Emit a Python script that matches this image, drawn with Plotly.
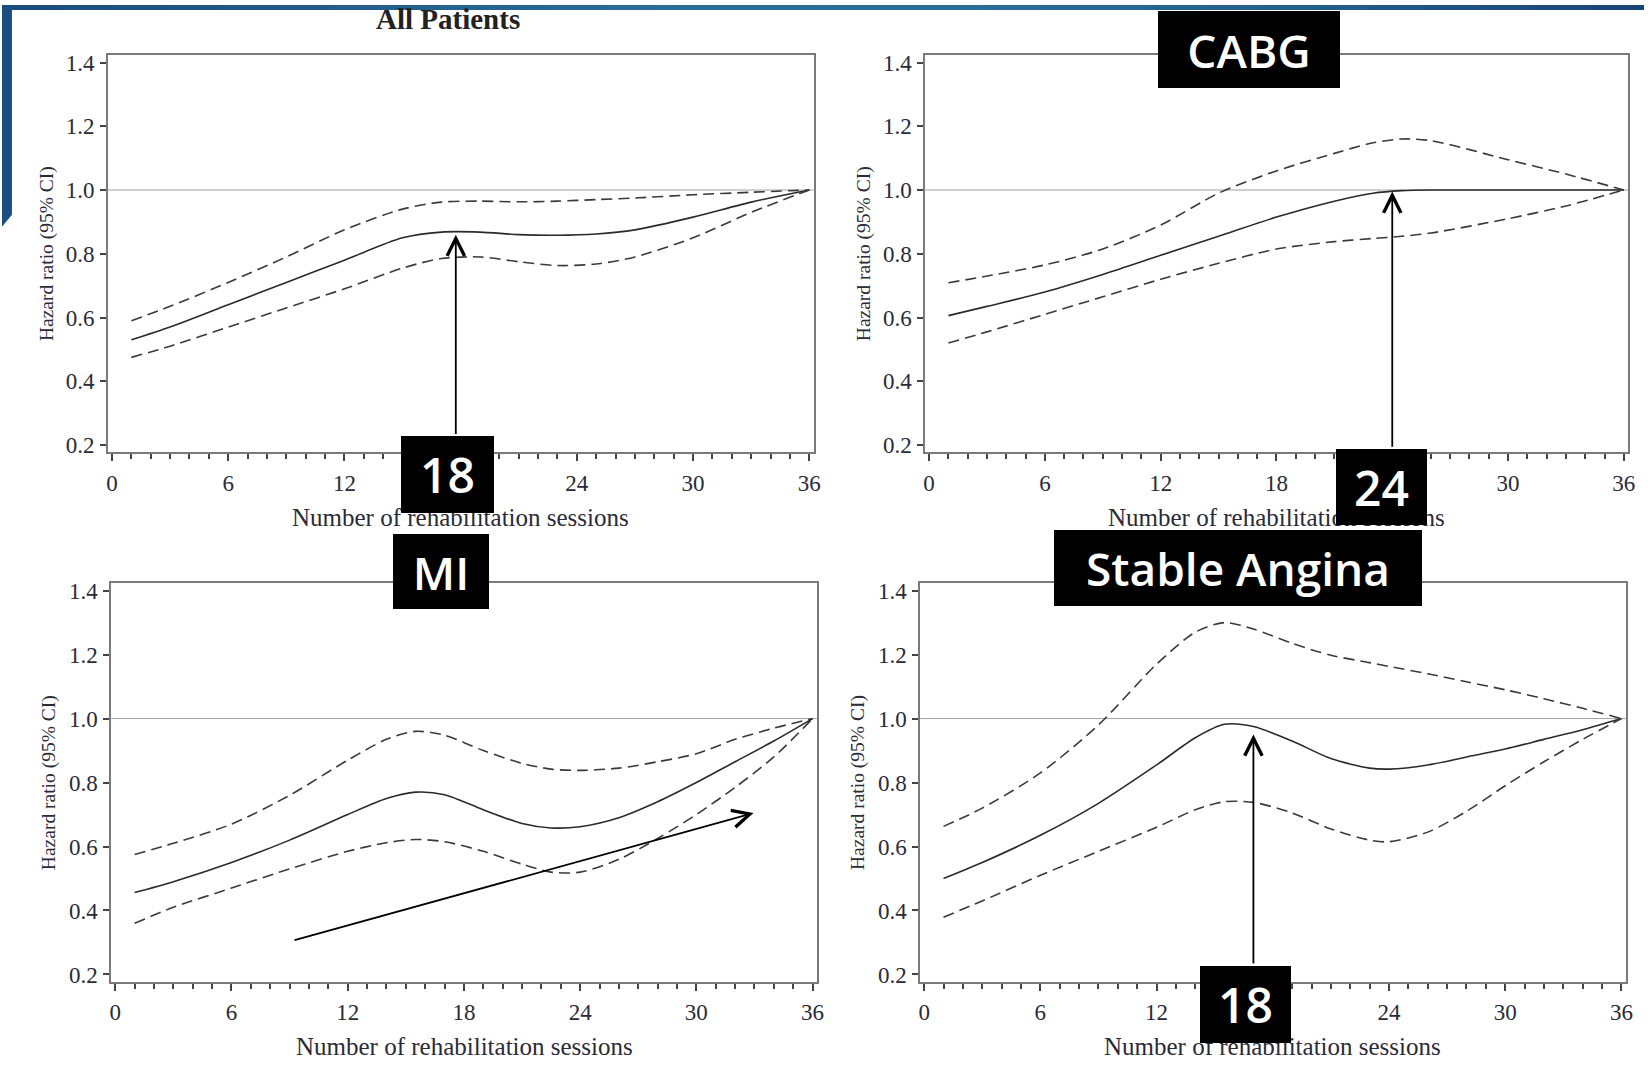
import plotly.graph_objects as go

# ---------------- data ----------------
# All Patients
x_all = [1, 3, 6, 9, 12, 15, 17, 19, 21, 23, 25, 27, 30, 33, 36]
hr_all = [0.53, 0.57, 0.64, 0.71, 0.78, 0.85, 0.868, 0.868, 0.86, 0.858, 0.862, 0.875, 0.915, 0.962, 1.0]
up_all = [0.59, 0.635, 0.71, 0.79, 0.875, 0.94, 0.962, 0.965, 0.963, 0.965, 0.97, 0.975, 0.985, 0.993, 1.0]
lo_all = [0.475, 0.51, 0.57, 0.63, 0.69, 0.755, 0.785, 0.79, 0.775, 0.763, 0.768, 0.79, 0.85, 0.93, 1.0]

# CABG
x_cabg = [1, 3, 6, 9, 12, 15, 18, 21, 23, 24.5, 26, 30, 33, 36]
hr_cabg = [0.606, 0.635, 0.68, 0.735, 0.795, 0.855, 0.915, 0.965, 0.99, 0.998, 1.0, 1.0, 1.0, 1.0]
up_cabg = [0.709, 0.73, 0.765, 0.815, 0.89, 0.99, 1.06, 1.115, 1.148, 1.16, 1.155, 1.095, 1.05, 1.0]
lo_cabg = [0.52, 0.555, 0.61, 0.665, 0.72, 0.77, 0.815, 0.838, 0.848, 0.855, 0.865, 0.91, 0.95, 1.0]

# MI
x_mi = [1, 3, 6, 9, 12, 14, 15.5, 17, 19, 21, 22.5, 24, 26, 28, 30, 32, 34, 36]
hr_mi = [0.456, 0.49, 0.55, 0.62, 0.70, 0.75, 0.77, 0.762, 0.715, 0.672, 0.658, 0.662, 0.69, 0.74, 0.80, 0.865, 0.93, 1.0]
up_mi = [0.575, 0.61, 0.67, 0.76, 0.87, 0.935, 0.96, 0.948, 0.9, 0.86, 0.842, 0.838, 0.845, 0.865, 0.89, 0.935, 0.97, 1.0]
lo_mi = [0.36, 0.41, 0.47, 0.53, 0.585, 0.612, 0.622, 0.615, 0.585, 0.545, 0.52, 0.52, 0.56, 0.625, 0.70, 0.785, 0.88, 1.0]

# Stable Angina
x_sa = [1, 3, 6, 9, 12, 14, 15.5, 17, 19, 21, 23, 24, 26, 28, 30, 32, 34, 36]
hr_sa = [0.50, 0.55, 0.635, 0.735, 0.855, 0.94, 0.982, 0.975, 0.93, 0.875, 0.845, 0.842, 0.855, 0.88, 0.905, 0.935, 0.965, 1.0]
up_sa = [0.663, 0.72, 0.83, 0.98, 1.17, 1.27, 1.30, 1.28, 1.235, 1.198, 1.175, 1.163, 1.14, 1.115, 1.09, 1.062, 1.032, 1.0]
lo_sa = [0.379, 0.43, 0.51, 0.585, 0.66, 0.715, 0.74, 0.738, 0.705, 0.655, 0.62, 0.615, 0.645, 0.71, 0.79, 0.865, 0.935, 1.0]

x_ticks = [0, 6, 12, 18, 24, 30, 36]
y_ticks = [0.2, 0.4, 0.6, 0.8, 1.0, 1.2, 1.4]

# annotation arrows (data coords): (x_tip, y_tip, x_tail, y_tail)
arrow_all = (17.75, 0.86, 17.75, 0.23)
arrow_cabg = (24.0, 0.995, 24.0, 0.19)
arrow_mi = (32.95, 0.7045, 9.18, 0.306)
arrow_sa = (17.0, 0.95, 17.0, 0.23)

# ---------------- layout helpers ----------------
W, H = 1650, 1065
def fx(px):
    return px / W
def fy(py):
    return 1 - py / H

panels = [
    dict(left=106.7, right=816.0, top=50.7, bottom=451.7, x=x_all, est=hr_all, up=up_all, lo=lo_all, arrow=arrow_all),
    dict(left=928.3, right=1635.0, top=50.7, bottom=451.7, x=x_cabg, est=hr_cabg, up=up_cabg, lo=lo_cabg, arrow=arrow_cabg),
    dict(left=110.0, right=819.3, top=584.3, bottom=986.7, x=x_mi, est=hr_mi, up=up_mi, lo=lo_mi, arrow=arrow_mi),
    dict(left=923.3, right=1632.6, top=584.3, bottom=986.7, x=x_sa, est=hr_sa, up=up_sa, lo=lo_sa, arrow=arrow_sa),
]

SERIF = "Liberation Serif, Times New Roman, serif"
TXT = "#2a2a38"
fig = go.Figure()
layout = dict(
    width=W, height=H, margin=dict(l=0, r=0, t=0, b=0),
    paper_bgcolor="white", plot_bgcolor="white", showlegend=False,
    font=dict(family=SERIF, color=TXT),
)
annotations = []
shapes = []

for i, p in enumerate(panels):
    n = "" if i == 0 else str(i + 1)
    xa, ya = "x" + n, "y" + n
    for series, dash, col in ((p["up"], "11px,6px", "#3a3a3a"), (p["est"], "solid", "#2a2a2a"), (p["lo"], "11px,6px", "#3a3a3a")):
        fig.add_trace(go.Scatter(x=p["x"], y=series, mode="lines", xaxis=xa, yaxis=ya,
                                 line=dict(color=col, width=1.6, dash=dash, shape="spline", smoothing=0.8),
                                 hoverinfo="skip"))
    layout["xaxis" + n] = dict(
        domain=[fx(p["left"]), fx(p["right"])], anchor=ya, range=[-0.2, 36.22],
        tickmode="array", tickvals=x_ticks, ticktext=[str(v) for v in x_ticks],
        ticks="outside", ticklen=7, tickwidth=1.5, tickcolor="#444",
        minor=dict(dtick=1, tick0=0, ticks="outside", ticklen=5, tickwidth=1.5, tickcolor="#444", showgrid=False),
        showline=True, linecolor="#7a7a7a", linewidth=2, mirror=True,
        showgrid=False, zeroline=False, ticklabelstandoff=2,
        tickfont=dict(family=SERIF, size=23, color=TXT),
    )
    layout["yaxis" + n] = dict(
        domain=[fy(p["bottom"]), fy(p["top"])], anchor=xa, range=[0.178, 1.423],
        tickmode="array", tickvals=y_ticks, ticktext=["%.1f" % v for v in y_ticks],
        ticks="outside", ticklen=6, tickwidth=1.5, tickcolor="#444",
        showline=True, linecolor="#7a7a7a", linewidth=2, mirror=True,
        showgrid=False, zeroline=False, ticklabelstandoff=1,
        tickfont=dict(family=SERIF, size=23, color=TXT),
    )
    # reference line at HR = 1
    shapes.append(dict(type="line", xref=xa + " domain", yref=ya, x0=0, x1=1, y0=1.0, y1=1.0,
                       line=dict(color="#a0a0a0", width=1), layer="below"))
    # axis titles
    annotations.append(dict(text="Number of rehabilitation sessions", xref="paper", yref="paper",
                            x=fx((p["left"] + p["right"]) / 2), y=fy(p["bottom"] + 66),
                            xanchor="center", yanchor="middle", showarrow=False,
                            font=dict(family=SERIF, size=25, color=TXT)))
    annotations.append(dict(text="Hazard ratio (95% CI)", xref="paper", yref="paper",
                            x=fx(p["left"] - 62), y=fy((p["top"] + p["bottom"]) / 2), textangle=-90,
                            xanchor="center", yanchor="middle", showarrow=False,
                            font=dict(family=SERIF, size=19.5, color=TXT)))
    # arrow
    xt, yt, xs, ys = p["arrow"]
    annotations.append(dict(x=xt, y=yt, ax=xs, ay=ys, xref=xa, yref=ya, axref=xa, ayref=ya,
                            text="", showarrow=True, arrowhead=5, arrowsize=1.9, arrowwidth=1.8,
                            arrowcolor="black"))

# title of first panel
annotations.append(dict(text="<b>All Patients</b>", xref="paper", yref="paper", x=fx(448), y=fy(14),
                        xanchor="center", yanchor="middle", showarrow=False,
                        font=dict(family=SERIF, size=29, color="#222")))

# black label boxes (cx, cy, w, h, text, size)
boxes = [
    (1254, 44.5, 182, 77, "CABG", 46),
    (447.5, 474.5, 93, 77, "18", 48),
    (1387.5, 487, 91, 76, "24", 48),
    (441, 572.5, 96, 75, "MI", 46),
    (1243, 569, 368, 76, "Stable Angina", 46),
    (1250.5, 1009.5, 91, 77, "18", 48),
]
for cx, cy, w, h, t, s in boxes:
    annotations.append(dict(text=t, xref="paper", yref="paper", x=fx(cx), y=fy(cy),
                            xanchor="center", yanchor="middle", showarrow=False,
                            width=w, height=h, bgcolor="black", borderpad=0, borderwidth=0,
                            font=dict(family="Open Sans, Lato, sans-serif", size=s, color="white", weight=600)))

# blue slide decoration (top band gradient + left bar)
stops = ["#1b4b7d", "#225d8c", "#2a6d97", "#2a6d97", "#24608c", "#1a4577"]
nseg = 30
for k in range(nseg):
    t = k / (nseg - 1) * (len(stops) - 1)
    j = min(int(t), len(stops) - 2)
    f = t - j
    c1 = stops[j]; c2 = stops[j + 1]
    rgb = [int(int(c1[1 + 2 * q:3 + 2 * q], 16) * (1 - f) + int(c2[1 + 2 * q:3 + 2 * q], 16) * f) for q in range(3)]
    shapes.append(dict(type="rect", xref="paper", yref="paper",
                       x0=fx(W * k / nseg), x1=fx(W * (k + 1) / nseg + 1), y0=fy(5), y1=1,
                       fillcolor="rgb(%d,%d,%d)" % tuple(rgb), line=dict(width=0), layer="above"))
shapes.append(dict(type="path", xref="paper", yref="paper",
                   path="M %f,%f L %f,%f L %f,%f L %f,%f Z" % (0, 1, fx(10), 1, fx(10), fy(212), 0, fy(224)),
                   fillcolor="#1c4e80", line=dict(width=0), layer="above"))

layout["annotations"] = annotations
layout["shapes"] = shapes
fig.update_layout(**layout)
fig.write_html("out.html")
